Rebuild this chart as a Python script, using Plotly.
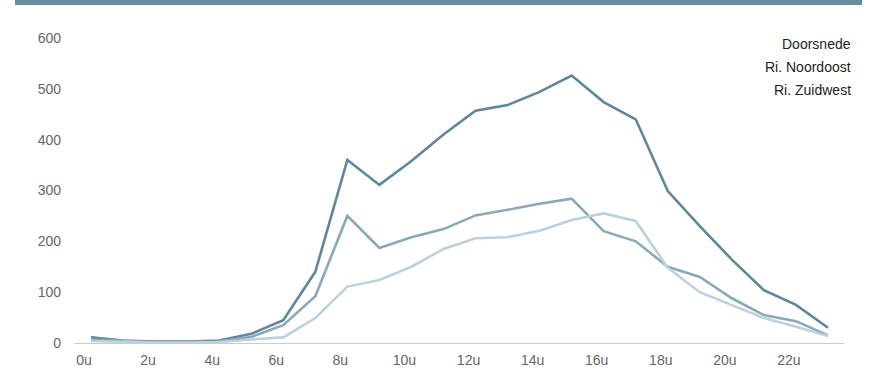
import plotly.graph_objects as go

hours = list(range(24))
hour_labels = [f"{h}u" for h in hours]

series_names = ["Doorsnede", "Ri. Noordoost", "Ri. Zuidwest"]
doorsnede = [11, 5, 3, 3, 5, 18, 45, 140, 360, 311, 358, 410, 457, 468, 494, 526, 474, 440, 299, 230, 164, 104, 75, 30]
noordoost = [7, 4, 2, 2, 3, 12, 35, 92, 250, 187, 208, 224, 251, 262, 274, 284, 220, 200, 150, 130, 88, 55, 43, 15]
zuidwest = [4, 2, 1, 1, 2, 7, 11, 49, 111, 124, 150, 185, 206, 208, 221, 242, 255, 240, 148, 100, 74, 49, 32, 14]

colors = ["#5f8799", "#89a9b8", "#bdd1dc"]
FONT = "Liberation Sans"

fig = go.Figure()
for name, vals, col in zip(series_names, [doorsnede, noordoost, zuidwest], colors):
    fig.add_trace(go.Scatter(x=hours, y=vals, mode="lines", name=name,
                             line=dict(color=col, width=2.6), showlegend=False))

# legend as text (no symbols), right-aligned
for i, name in enumerate(series_names):
    fig.add_annotation(text=name, xref="paper", yref="paper",
                       x=(853 - 75) / 769, y=(343 - 44 - 23 * i) / 305,
                       xanchor="right", yanchor="middle", showarrow=False,
                       font=dict(size=14, color="#222222", family=FONT))

# top bar
fig.add_shape(type="rect", xref="paper", yref="paper",
              x0=(15 - 75) / 769, x1=(862 - 75) / 769,
              y0=(343 - 5) / 305, y1=(343 + 1) / 305,
              fillcolor="#678c9f", line=dict(width=0), layer="above")

fig.update_layout(
    width=884, height=374,
    margin=dict(l=75, r=40, t=38, b=31),
    paper_bgcolor="white", plot_bgcolor="white",
    font=dict(family=FONT, size=14, color="#666666"),
    xaxis=dict(range=[-0.5, 23.5], tickvals=hours[::2], ticktext=hour_labels[::2],
               showgrid=False, zeroline=False, showline=True, linecolor="#cccccc",
               linewidth=1, ticks="", ticklabelshift=-7, ticklabelstandoff=4,
               automargin=False, tickfont=dict(size=14, color="#666666", family=FONT)),
    yaxis=dict(range=[0, 600], tickvals=[0, 100, 200, 300, 400, 500, 600],
               showgrid=False, zeroline=False, showline=False, ticks="",
               ticklabelstandoff=13, automargin=False,
               tickfont=dict(size=14, color="#666666", family=FONT)),
)

fig.write_html("out.html")
